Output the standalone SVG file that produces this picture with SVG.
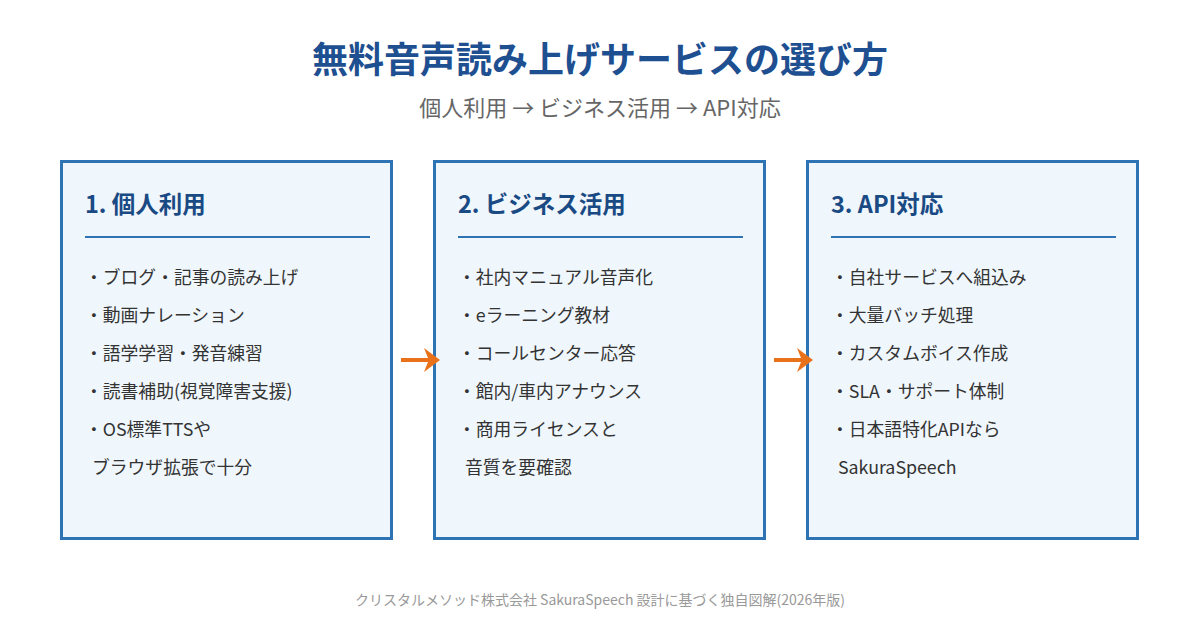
<svg xmlns="http://www.w3.org/2000/svg" width="1200" height="620" viewBox="0 0 1200 620">
<defs>
<style>
text{font-family:"Noto Sans CJK JP","Noto Sans",sans-serif}
.title{font-size:36px;font-weight:700;fill:#1d4f91}
.sub{font-size:22px;fill:#666}
.box{fill:#eff6fc;stroke:#2e74b5;stroke-width:3}
.head{font-size:23.5px;font-weight:700;fill:#1a4a84}
.rule{stroke:#2e74b5;stroke-width:2}
.item{font-size:17.8px;fill:#333}
.foot{font-size:14px;fill:#999}
.conn{stroke:#e8711a;stroke-width:4;fill:none}
</style>
<marker id="ah" markerWidth="6" markerHeight="6" refX="3" refY="3" orient="auto" markerUnits="strokeWidth"><path d="M0,0 L4,3 L0,6 L1.2,3 Z" fill="#e8711a"/></marker>
</defs>
<rect width="1200" height="620" fill="#fff"/>
<text class="title" x="600" y="73" text-anchor="middle">無料音声読み上げサービスの選び方</text>
<text class="sub" x="600" y="116" text-anchor="middle">個人利用 → ビジネス活用 → API対応</text>
<g id="node1">
<rect class="box" x="61.5" y="161.5" width="330" height="377"/>
<text class="head" x="85" y="213">1. 個人利用</text>
<line class="rule" x1="85" y1="237" x2="370" y2="237"/>
<text class="item" x="85" y="284">・ブログ・記事の読み上げ</text>
<text class="item" x="85" y="322">・動画ナレーション</text>
<text class="item" x="85" y="360">・語学学習・発音練習</text>
<text class="item" x="85" y="398">・読書補助(視覚障害支援)</text>
<text class="item" x="85" y="436">・OS標準TTSや</text>
<text class="item" x="92" y="474">ブラウザ拡張で十分</text>
</g>
<g id="node2">
<rect class="box" x="434.5" y="161.5" width="330" height="377"/>
<text class="head" x="458" y="213">2. ビジネス活用</text>
<line class="rule" x1="458" y1="237" x2="743" y2="237"/>
<text class="item" x="458" y="284">・社内マニュアル音声化</text>
<text class="item" x="458" y="322">・eラーニング教材</text>
<text class="item" x="458" y="360">・コールセンター応答</text>
<text class="item" x="458" y="398">・館内/車内アナウンス</text>
<text class="item" x="458" y="436">・商用ライセンスと</text>
<text class="item" x="465" y="474">音質を要確認</text>
</g>
<g id="node3">
<rect class="box" x="807.5" y="161.5" width="330" height="377"/>
<text class="head" x="831" y="213">3. API対応</text>
<line class="rule" x1="831" y1="237" x2="1116" y2="237"/>
<text class="item" x="831" y="284">・自社サービスへ組込み</text>
<text class="item" x="831" y="322">・大量バッチ処理</text>
<text class="item" x="831" y="360">・カスタムボイス作成</text>
<text class="item" x="831" y="398">・SLA・サポート体制</text>
<text class="item" x="831" y="436">・日本語特化APIなら</text>
<text class="item" x="838" y="474">SakuraSpeech</text>
</g>
<g id="connectors">
<line class="conn" x1="401" y1="360" x2="436" y2="360" marker-end="url(#ah)"/>
<line class="conn" x1="774" y1="360" x2="809" y2="360" marker-end="url(#ah)"/>
</g>
<text class="foot" x="600" y="605" text-anchor="middle">クリスタルメソッド株式会社 SakuraSpeech 設計に基づく独自図解(2026年版)</text>
</svg>
